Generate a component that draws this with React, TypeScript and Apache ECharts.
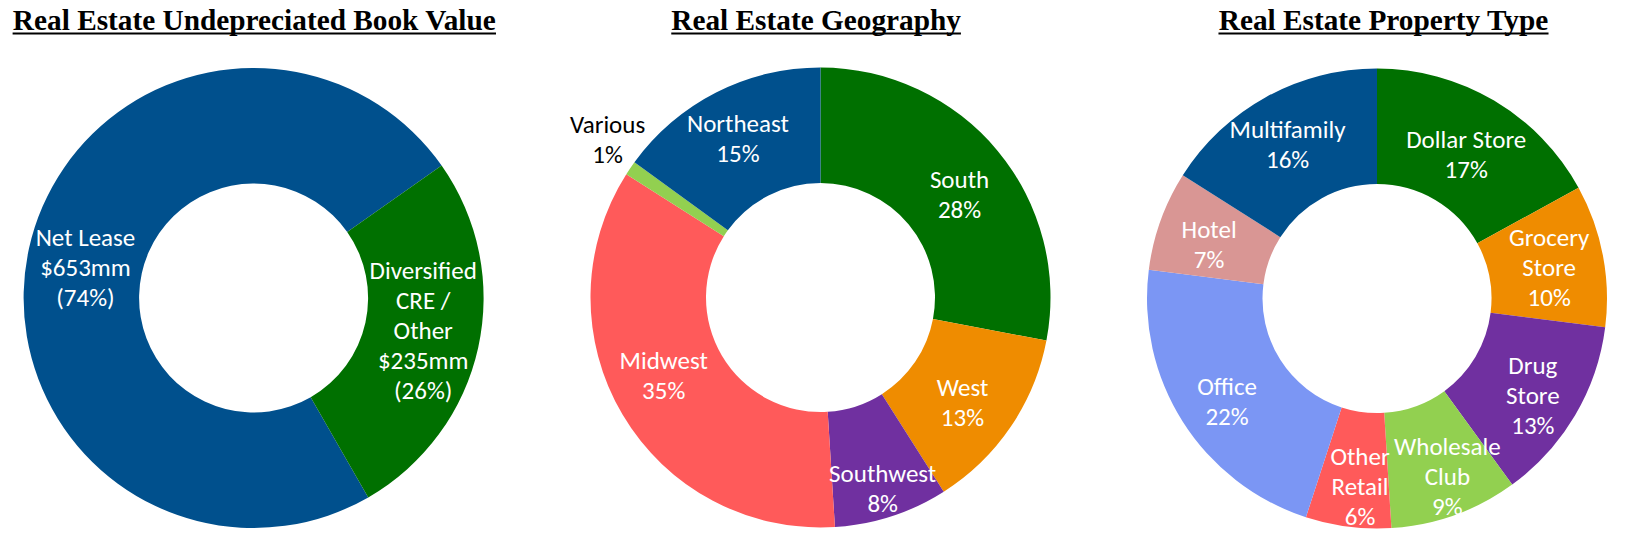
import React, { useEffect, useRef } from "react";
import * as echarts from "echarts";

// ---------- data ----------
const titles = [
  "Real Estate Undepreciated Book Value",
  "Real Estate Geography",
  "Real Estate Property Type",
];

const bookCategories = ["Net Lease", "Diversified\nCRE /\nOther"];
const bookValues = [653, 235]; // $mm

const geoCategories = ["South", "West", "Southwest", "Midwest", "Various", "Northeast"];
const geoValues = [28, 13, 8, 35, 1, 15]; // %

const typeCategories = [
  "Dollar Store",
  "Grocery\nStore",
  "Drug\nStore",
  "Wholesale\nClub",
  "Other\nRetail",
  "Office",
  "Hotel",
  "Multifamily",
];
const typeValues = [17, 10, 13, 9, 6, 22, 7, 16]; // %

// ---------- styles ----------
const NAVY = "#00508D";
const GREEN = "#007000";
const ORANGE = "#EF8C00";
const PURPLE = "#7030A0";
const RED = "#FF5A5A";
const LIGHTGREEN = "#92D050";
const LIGHTBLUE = "#7B96F4";
const PINK = "#D99694";

const bookColors = [NAVY, GREEN];
const geoColors = [GREEN, ORANGE, PURPLE, RED, LIGHTGREEN, NAVY];
const typeColors = [GREEN, ORANGE, PURPLE, LIGHTGREEN, RED, LIGHTBLUE, PINK, NAVY];

// label nudges (layout only)
const bookShift = [[3, 7], [-1.5, -5]];
const geoShift = [[4, 9], [-3, 6], [8, 24], [-6, -11], [-68, -59], [-3, -3]];
const typeShift = [[0, 7], [0, 2], [5, 8], [11, 13], [5, 14], [-2, 9], [-3, 5], [-5, 0]];

const LABEL_FONT = 'Carlito, Lato, "Open Sans", sans-serif';
const TITLE_FONT = 'bold 29.3px "Liberation Serif", "Times New Roman", serif';

const titleX = [254.3, 816.1, 1383.5];
const pieCenters = [
  [253.6, 298],
  [820.5, 297.5],
  [1377, 298.5],
];

function measure(text: string, font: string): number {
  const c = document.createElement("canvas");
  const ctx = c.getContext("2d");
  if (!ctx) return text.length * 13;
  ctx.font = font;
  return ctx.measureText(text).width;
}

export default function App() {
  const ref = useRef<HTMLDivElement>(null);

  useEffect(() => {
    if (!ref.current) return;
    const chart = echarts.init(ref.current, undefined, { renderer: "svg" });

    const baseLabel = {
      show: true,
      position: "inside",
      color: "#ffffff",
      fontFamily: LABEL_FONT,
      fontSize: 25,
      lineHeight: 30,
    };

    const common = {
      type: "pie",
      radius: [114.5, 230],
      clockwise: true,
      avoidLabelOverlap: false,
      silent: true,
      emphasis: { disabled: true },
      labelLine: { show: false },
      itemStyle: { borderWidth: 0 },
    };

    const shiftFn = (arr: number[][]) => (p: any) => {
      const s = arr[p.dataIndex] || [0, 0];
      return { dx: s[0], dy: s[1] };
    };

    const graphic: any[] = [];
    titles.forEach((t, i) => {
      const w = measure(t, TITLE_FONT);
      graphic.push({
        type: "text",
        x: titleX[i],
        y: 19.5,
        style: {
          text: t,
          font: TITLE_FONT,
          fill: "#000",
          align: "center",
          verticalAlign: "middle",
          textAlign: "center",
          textVerticalAlign: "middle",
        },
      });
      graphic.push({
        type: "line",
        shape: { x1: titleX[i] - w / 2, y1: 33.5, x2: titleX[i] + w / 2, y2: 33.5 },
        style: { stroke: "#000", lineWidth: 2.2 },
      });
    });

    chart.setOption({
      animation: false,
      backgroundColor: "#ffffff",
      graphic,
      series: [
        {
          ...common,
          center: pieCenters[0],
          startAngle: -60.1,
          label: {
            ...baseLabel,
            formatter: (p: any) => `${p.name}\n$${p.value}mm\n(${Math.round(p.percent)}%)`,
          },
          labelLayout: shiftFn(bookShift),
          data: bookCategories.map((n, i) => ({
            name: n,
            value: bookValues[i],
            itemStyle: { color: bookColors[i] },
          })),
        },
        {
          ...common,
          center: pieCenters[1],
          startAngle: 90,
          label: {
            ...baseLabel,
            formatter: (p: any) => `${p.name}\n${p.value}%`,
          },
          labelLayout: shiftFn(geoShift),
          data: geoCategories.map((n, i) => ({
            name: n,
            value: geoValues[i],
            itemStyle: { color: geoColors[i] },
            label: n === "Various" ? { color: "#000000" } : undefined,
          })),
        },
        {
          ...common,
          center: pieCenters[2],
          startAngle: 90,
          label: {
            ...baseLabel,
            formatter: (p: any) => `${p.name}\n${p.value}%`,
          },
          labelLayout: shiftFn(typeShift),
          data: typeCategories.map((n, i) => ({
            name: n,
            value: typeValues[i],
            itemStyle: { color: typeColors[i] },
          })),
        },
      ],
    } as any);

    return () => {
      chart.dispose();
    };
  }, []);

  return (
    <div
      ref={ref}
      style={{
        position: "fixed",
        left: 0,
        top: 0,
        width: 1632,
        height: 537,
        background: "#ffffff",
      }}
    />
  );
}
